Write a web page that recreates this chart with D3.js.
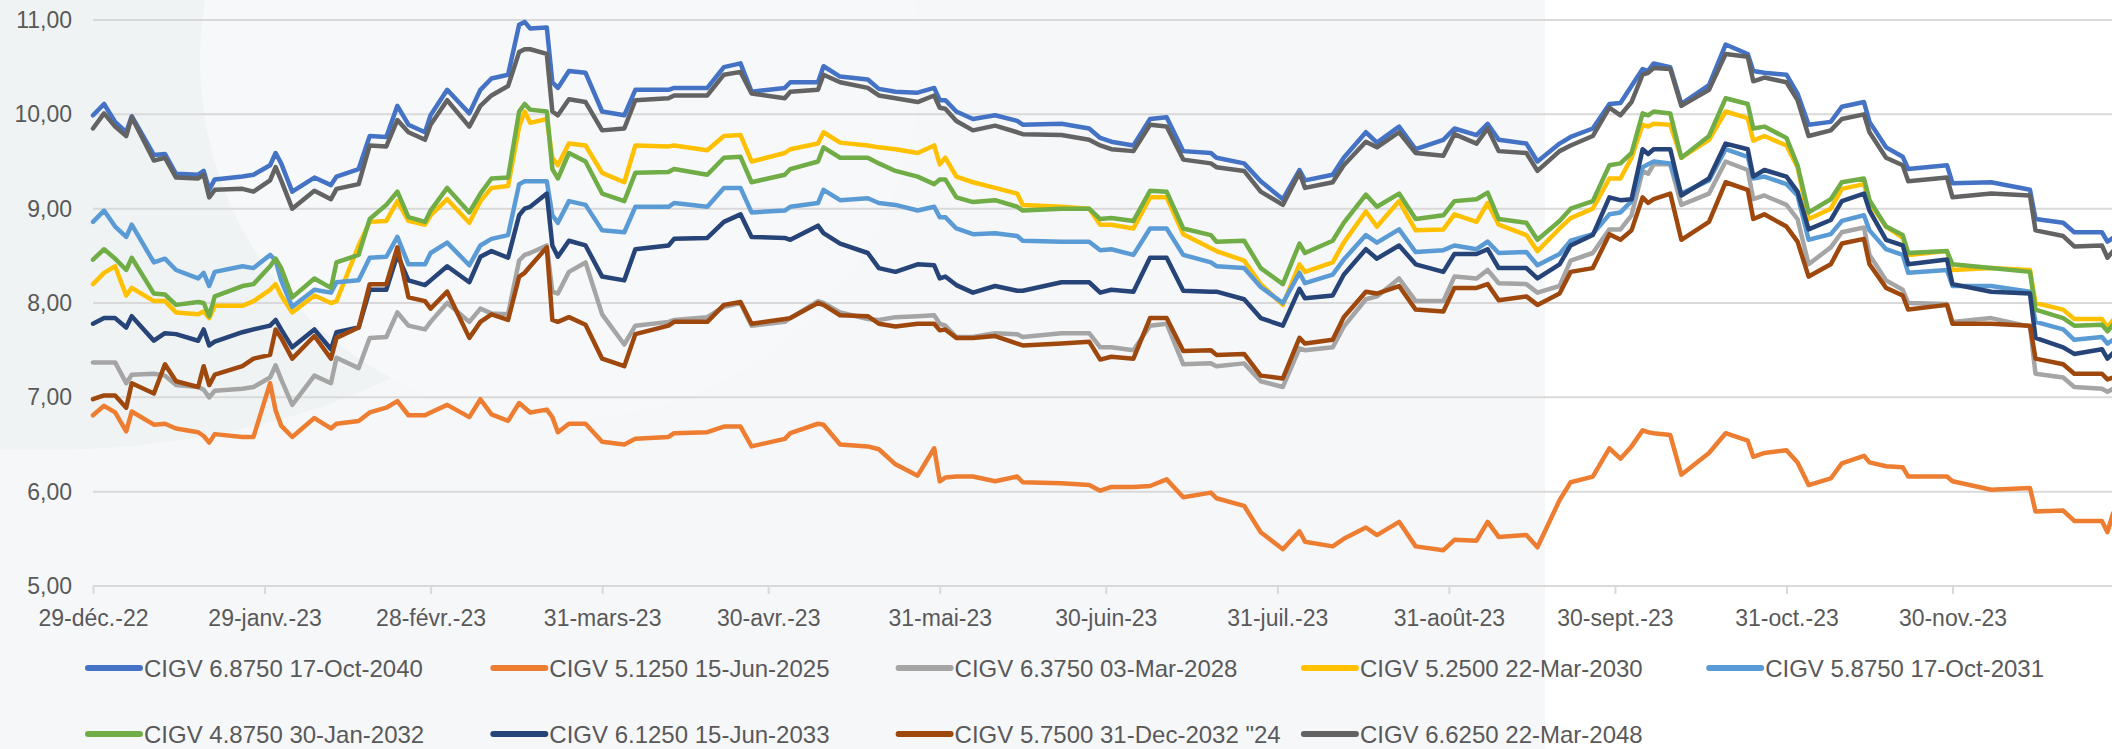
<!DOCTYPE html>
<html>
<head>
<meta charset="utf-8">
<script src="https://cdn.jsdelivr.net/npm/d3@7/dist/d3.min.js"></script>
<style>
body { margin: 0; background: #ffffff; }
text { font-family: "Liberation Sans", Arial, sans-serif; fill: #595959; }
</style>
</head>
<body>
<script>
var width = 2112;
var height = 749;

// dates of the sampled points
var dates = [
  "2022-12-29","2022-12-31","2023-01-02","2023-01-04","2023-01-05","2023-01-09","2023-01-11","2023-01-13","2023-01-17","2023-01-18",
  "2023-01-19","2023-01-20","2023-01-25","2023-01-27","2023-01-30","2023-01-31","2023-02-01","2023-02-03","2023-02-07","2023-02-10",
  "2023-02-11","2023-02-15","2023-02-17","2023-02-20","2023-02-22","2023-02-24","2023-02-27","2023-02-28","2023-03-03","2023-03-07",
  "2023-03-09","2023-03-11","2023-03-14","2023-03-16","2023-03-17","2023-03-18","2023-03-21","2023-03-22","2023-03-23","2023-03-25",
  "2023-03-28","2023-03-31",
  "2023-04-04","2023-04-06","2023-04-12","2023-04-13","2023-04-19","2023-04-22","2023-04-25","2023-04-27","2023-05-03","2023-05-04",
  "2023-05-09","2023-05-10","2023-05-13","2023-05-18","2023-05-20","2023-05-23","2023-05-27","2023-05-30","2023-05-31","2023-06-01",
  "2023-06-03","2023-06-06","2023-06-10","2023-06-14","2023-06-15","2023-06-22","2023-06-27","2023-06-29","2023-07-01",
  "2023-07-05","2023-07-08","2023-07-11","2023-07-14","2023-07-19","2023-07-20","2023-07-25","2023-07-28","2023-08-01","2023-08-04",
  "2023-08-05","2023-08-10","2023-08-12","2023-08-16","2023-08-18","2023-08-22","2023-08-25","2023-08-30","2023-09-01","2023-09-05",
  "2023-09-07","2023-09-09","2023-09-14","2023-09-16","2023-09-20","2023-09-22","2023-09-26","2023-09-29","2023-10-01",
  "2023-10-03","2023-10-05","2023-10-06","2023-10-07","2023-10-10","2023-10-12","2023-10-17","2023-10-20","2023-10-24","2023-10-25",
  "2023-10-27","2023-10-31","2023-11-02","2023-11-04","2023-11-08","2023-11-10","2023-11-14","2023-11-15","2023-11-18","2023-11-21",
  "2023-11-22","2023-11-29","2023-11-30","2023-12-07","2023-12-14","2023-12-15","2023-12-20","2023-12-22","2023-12-27","2023-12-28",
  "2023-12-29"
];

// yields per bond
var cigv2040 = [9.99,10.11,9.92,9.81,9.98,9.57,9.58,9.37,9.36,9.40,9.20,9.31,9.34,9.36,9.46,9.59,9.48,9.18,9.33,9.25,9.34,9.42,9.77,9.76,10.09,9.89,9.81,9.99,10.26,10.01,10.26,10.38,10.42,10.95,10.98,10.91,10.92,10.34,10.28,10.46,10.44,10.03,
  9.99,10.26,10.26,10.28,10.28,10.50,10.54,10.24,10.28,10.34,10.34,10.51,10.40,10.37,10.27,10.24,10.23,10.28,10.15,10.15,10.03,9.95,9.99,9.93,9.89,9.90,9.85,9.75,9.71,
  9.67,9.95,9.97,9.61,9.59,9.54,9.48,9.29,9.10,9.41,9.30,9.36,9.54,9.81,9.70,9.87,9.63,9.73,9.85,9.78,9.90,9.73,9.69,9.50,9.69,9.76,9.85,10.11,10.12,
  10.30,10.48,10.46,10.54,10.50,10.11,10.31,10.74,10.64,10.46,10.44,10.42,10.22,9.89,9.92,10.08,10.13,9.92,9.65,9.55,9.42,9.46,9.27,9.28,9.20,8.89,8.85,8.75,8.75,8.65,8.69];
var cigv2025 = [6.81,6.91,6.84,6.64,6.85,6.71,6.72,6.67,6.63,6.59,6.52,6.61,6.58,6.58,7.15,6.86,6.70,6.58,6.78,6.67,6.72,6.75,6.84,6.89,6.96,6.81,6.81,6.84,6.92,6.79,6.98,6.82,6.75,6.94,6.89,6.84,6.87,6.79,6.63,6.72,6.72,6.53,
  6.50,6.56,6.58,6.62,6.63,6.69,6.69,6.48,6.56,6.62,6.72,6.71,6.50,6.48,6.45,6.29,6.17,6.46,6.11,6.15,6.16,6.16,6.11,6.16,6.10,6.09,6.07,6.01,6.05,
  6.05,6.06,6.13,5.94,5.99,5.93,5.85,5.57,5.39,5.58,5.47,5.42,5.50,5.62,5.54,5.68,5.42,5.38,5.49,5.48,5.68,5.52,5.54,5.41,5.91,6.10,6.16,6.46,6.35,
  6.48,6.65,6.63,6.62,6.60,6.18,6.41,6.62,6.54,6.37,6.41,6.44,6.31,6.07,6.14,6.30,6.38,6.31,6.27,6.26,6.16,6.16,6.11,6.02,6.04,5.79,5.80,5.69,5.69,5.57,5.77];
var cigv2028 = [7.37,7.37,7.37,7.15,7.24,7.25,7.23,7.13,7.11,7.08,7.00,7.07,7.09,7.11,7.21,7.34,7.19,6.92,7.23,7.15,7.42,7.31,7.63,7.64,7.90,7.76,7.72,7.80,8.00,7.80,7.94,7.89,7.88,8.45,8.51,8.53,8.61,8.12,8.10,8.33,8.43,7.88,
  7.56,7.76,7.80,7.82,7.85,7.96,8.00,7.76,7.80,7.84,8.02,8.00,7.90,7.83,7.82,7.85,7.86,7.87,7.78,7.76,7.64,7.64,7.68,7.67,7.64,7.68,7.68,7.53,7.53,
  7.50,7.76,7.78,7.35,7.36,7.33,7.36,7.17,7.11,7.52,7.50,7.53,7.75,8.04,8.07,8.26,8.02,8.02,8.28,8.26,8.35,8.21,8.20,8.11,8.18,8.45,8.53,8.78,8.78,
  8.93,9.40,9.37,9.47,9.47,9.04,9.16,9.50,9.41,9.10,9.14,9.04,8.89,8.41,8.59,8.75,8.80,8.51,8.24,8.14,8.00,7.99,7.80,7.84,7.75,7.25,7.21,7.11,7.09,7.06,7.09];
var cigv2030 = [8.20,8.32,8.39,8.08,8.16,8.02,8.02,7.90,7.88,7.91,7.84,7.97,7.97,8.02,8.14,8.20,8.08,7.90,8.08,8.00,8.02,8.61,8.86,8.87,9.08,8.87,8.83,8.93,9.10,8.85,9.08,9.22,9.24,9.87,10.03,9.91,9.95,9.54,9.46,9.69,9.67,9.38,
  9.28,9.67,9.66,9.67,9.62,9.77,9.78,9.50,9.59,9.63,9.69,9.81,9.70,9.67,9.65,9.63,9.59,9.67,9.47,9.54,9.34,9.28,9.22,9.16,9.04,9.02,9.00,8.83,8.83,
  8.79,9.12,9.12,8.73,8.58,8.55,8.45,8.20,7.98,8.41,8.33,8.43,8.64,8.97,8.81,9.08,8.77,8.78,8.94,8.86,9.06,8.83,8.72,8.55,8.79,8.90,9.00,9.32,9.32,
  9.54,9.89,9.87,9.90,9.89,9.54,9.73,10.03,9.96,9.72,9.77,9.67,9.44,8.89,9.00,9.21,9.26,9.06,8.81,8.69,8.51,8.55,8.35,8.37,8.35,8.00,7.93,7.83,7.83,7.74,7.82];
var cigv2031 = [8.86,8.98,8.81,8.70,8.83,8.43,8.47,8.35,8.26,8.32,8.18,8.33,8.39,8.37,8.51,8.45,8.24,7.96,8.14,8.11,8.22,8.24,8.48,8.49,8.70,8.41,8.41,8.53,8.64,8.40,8.61,8.68,8.72,9.26,9.29,9.29,9.29,8.93,8.85,9.08,9.04,8.77,
  8.75,9.02,9.02,9.06,9.02,9.22,9.22,8.96,8.98,9.02,9.06,9.20,9.09,9.11,9.06,9.04,8.98,9.02,8.91,8.91,8.79,8.73,8.74,8.71,8.66,8.65,8.65,8.56,8.57,
  8.51,8.79,8.79,8.51,8.43,8.39,8.37,8.17,8.00,8.32,8.21,8.30,8.46,8.72,8.64,8.78,8.54,8.56,8.61,8.57,8.65,8.53,8.54,8.40,8.52,8.66,8.73,8.94,8.96,
  9.08,9.44,9.47,9.50,9.48,9.16,9.30,9.63,9.55,9.32,9.34,9.26,9.14,8.67,8.73,8.87,8.93,8.77,8.57,8.51,8.32,8.35,8.18,8.18,8.12,7.80,7.72,7.61,7.64,7.57,7.61];
var cigv2032 = [8.46,8.57,8.47,8.35,8.48,8.10,8.09,7.98,8.01,8.00,7.86,8.07,8.18,8.20,8.39,8.47,8.37,8.06,8.26,8.16,8.43,8.51,8.89,9.04,9.18,8.91,8.86,8.98,9.22,8.96,9.16,9.32,9.33,10.03,10.11,10.05,10.03,9.42,9.32,9.59,9.50,9.16,
  9.08,9.38,9.39,9.42,9.36,9.54,9.55,9.28,9.36,9.42,9.50,9.65,9.54,9.54,9.48,9.40,9.34,9.26,9.31,9.31,9.12,9.07,9.09,9.02,8.98,9.00,9.00,8.89,8.90,
  8.87,9.19,9.18,8.79,8.72,8.65,8.66,8.37,8.20,8.63,8.53,8.66,8.85,9.15,9.02,9.16,8.89,8.93,9.08,9.10,9.17,8.89,8.85,8.67,8.87,9.00,9.08,9.46,9.48,
  9.59,10.01,9.99,10.03,10.01,9.54,9.77,10.17,10.11,9.85,9.87,9.75,9.46,8.96,9.10,9.28,9.32,9.09,8.81,8.72,8.53,8.55,8.41,8.37,8.33,7.93,7.84,7.76,7.77,7.70,7.77];
var cigv2033 = [7.78,7.84,7.84,7.74,7.86,7.60,7.68,7.67,7.60,7.72,7.55,7.59,7.69,7.72,7.76,7.82,7.72,7.53,7.72,7.51,7.69,7.74,8.14,8.14,8.51,8.24,8.19,8.24,8.39,8.22,8.49,8.55,8.48,8.93,9.00,9.02,9.16,8.61,8.49,8.66,8.61,8.28,
  8.24,8.57,8.61,8.68,8.69,8.86,8.94,8.70,8.69,8.67,8.82,8.74,8.63,8.53,8.37,8.33,8.41,8.40,8.26,8.28,8.19,8.11,8.18,8.13,8.13,8.22,8.22,8.11,8.14,
  8.12,8.48,8.48,8.13,8.12,8.12,8.04,7.84,7.76,8.15,8.05,8.08,8.30,8.57,8.47,8.61,8.41,8.33,8.52,8.52,8.57,8.37,8.37,8.26,8.41,8.61,8.72,9.12,9.09,
  9.10,9.63,9.58,9.63,9.63,9.14,9.32,9.69,9.63,9.34,9.41,9.34,9.18,8.78,8.88,9.08,9.16,8.98,8.67,8.61,8.41,8.46,8.20,8.12,8.10,7.63,7.53,7.46,7.51,7.41,7.47];
var cigv2032b = [6.98,7.02,7.02,6.89,7.15,7.04,7.35,7.17,7.11,7.33,7.13,7.24,7.33,7.41,7.45,7.72,7.63,7.41,7.65,7.41,7.63,7.74,8.20,8.20,8.59,8.06,8.02,7.94,8.12,7.63,7.80,7.88,7.82,8.28,8.32,8.39,8.59,7.82,7.80,7.85,7.77,7.41,
  7.33,7.67,7.76,7.80,7.80,7.98,8.01,7.78,7.83,7.84,8.00,7.98,7.87,7.86,7.78,7.75,7.78,7.78,7.71,7.72,7.63,7.63,7.65,7.57,7.55,7.57,7.59,7.40,7.43,
  7.41,7.84,7.84,7.49,7.50,7.45,7.46,7.23,7.20,7.63,7.57,7.61,7.85,8.12,8.10,8.18,7.93,7.91,8.16,8.16,8.20,8.03,8.07,7.98,8.10,8.33,8.37,8.73,8.67,
  8.77,9.12,9.06,9.10,9.16,8.67,8.86,9.28,9.20,8.89,8.94,8.81,8.65,8.28,8.41,8.63,8.68,8.41,8.16,8.08,7.93,7.98,7.78,7.78,7.76,7.41,7.35,7.25,7.25,7.19,7.21];
var cigv2048 = [9.85,10.01,9.87,9.77,9.97,9.51,9.54,9.33,9.32,9.36,9.12,9.20,9.21,9.18,9.30,9.44,9.30,9.00,9.19,9.10,9.21,9.26,9.67,9.66,9.94,9.81,9.73,9.89,10.15,9.87,10.09,10.20,10.30,10.66,10.69,10.69,10.64,10.03,9.99,10.16,10.13,9.83,
  9.85,10.15,10.17,10.20,10.20,10.42,10.45,10.22,10.17,10.24,10.26,10.42,10.34,10.28,10.20,10.17,10.13,10.20,10.07,10.06,9.93,9.83,9.88,9.81,9.79,9.78,9.73,9.67,9.63,
  9.61,9.89,9.87,9.52,9.48,9.44,9.40,9.18,9.04,9.38,9.22,9.28,9.46,9.71,9.65,9.81,9.59,9.56,9.79,9.69,9.85,9.61,9.59,9.40,9.61,9.67,9.77,10.07,9.99,
  10.13,10.42,10.44,10.49,10.48,10.09,10.26,10.64,10.61,10.35,10.39,10.34,10.15,9.77,9.83,9.95,10.00,9.81,9.54,9.46,9.29,9.33,9.12,9.16,9.14,8.77,8.71,8.60,8.61,8.48,8.55];

var seriesNames = ["CIGV 6.8750 17-Oct-2040", "CIGV 5.1250 15-Jun-2025", "CIGV 6.3750 03-Mar-2028",
                   "CIGV 5.2500 22-Mar-2030", "CIGV 5.8750 17-Oct-2031", "CIGV 4.8750 30-Jan-2032",
                   "CIGV 6.1250 15-Jun-2033", "CIGV 5.7500 31-Dec-2032 \"24", "CIGV 6.6250 22-Mar-2048"];
var seriesValues = [cigv2040, cigv2025, cigv2028, cigv2030, cigv2031, cigv2032, cigv2033, cigv2032b, cigv2048];
var seriesColors = ["#4472c4", "#ed7d31", "#a5a5a5", "#ffc000", "#5b9bd5", "#70ad47", "#264478", "#9e480e", "#636363"];

// axis ticks
var tickDates = ["2022-12-29","2023-01-29","2023-02-28","2023-03-31","2023-04-30","2023-05-31",
                 "2023-06-30","2023-07-31","2023-08-31","2023-09-30","2023-10-31","2023-11-30"];
var tickLabels = ["29-déc.-22","29-janv.-23","28-févr.-23","31-mars-23","30-avr.-23","31-mai-23",
                  "30-juin-23","31-juil.-23","31-août-23","30-sept.-23","31-oct.-23","30-nov.-23"];
var yTicks = [5, 6, 7, 8, 9, 10, 11];

var parse = d3.timeParse("%Y-%m-%d");

var xScale = d3.scaleTime().domain([parse("2022-12-29"), parse("2023-12-29")]).range([93, 2113]);
var yScale = d3.scaleLinear().domain([5, 11]).range([586, 20]);

var svg = d3.select("body")
            .append("svg")
            .attr("width", width)
            .attr("height", height);

// faint background picture
svg.append("rect")
   .attr("x", 0).attr("y", 0)
   .attr("width", 1545).attr("height", height)
   .attr("fill", "#f6f7f9");
svg.append("ellipse")
   .attr("cx", 40).attr("cy", 200)
   .attr("rx", 500).attr("ry", 250)
   .attr("fill", "#e6eded")
   .attr("opacity", 0.45);
svg.append("circle")
   .attr("cx", 560).attr("cy", 60)
   .attr("r", 360)
   .attr("fill", "#f7f8f9");

// grid lines
svg.append("g")
   .selectAll("line")
   .data(yTicks)
   .enter()
   .append("line")
   .attr("x1", 93)
   .attr("x2", width)
   .attr("y1", function(d) {return yScale(d);})
   .attr("y2", function(d) {return yScale(d);})
   .attr("stroke", "#d9d9d9")
   .attr("stroke-width", 2);

// Y axis labels
svg.append("g")
   .selectAll("text")
   .data(yTicks)
   .enter()
   .append("text")
   .attr("x", 72)
   .attr("y", function(d) {return yScale(d) + 8;})
   .style("text-anchor", "end")
   .style("font-size", "23px")
   .text(function(d) {return d3.format(".2f")(d).replace(".", ",");});

// X axis
var xAxis = svg.append("g")
               .attr("transform", `translate(0, ${yScale(5)})`)
               .call(d3.axisBottom(xScale)
                       .tickValues(tickDates.map(parse))
                       .tickSize(8)
                       .tickFormat(function(d, i) {return tickLabels[i];}));
xAxis.select(".domain").remove();
xAxis.selectAll(".tick line").attr("stroke", "#d9d9d9").attr("stroke-width", 2);
xAxis.selectAll(".tick text")
     .attr("y", 24)
     .attr("dy", "0.71em")
     .style("font-size", "23px")
     .style("font-family", "Liberation Sans, Arial, sans-serif")
     .attr("fill", "#595959");

// line plotter
var line_plot = d3.line()
                  .x(function(d) {return xScale(d.date);})
                  .y(function(d) {return yScale(d.value);});

seriesValues.forEach(function(values, i) {
  var data = dates.map(function(d, j) {return {date: parse(d), value: values[j]};});
  svg.append("path")
     .attr("fill", "none")
     .attr("stroke", seriesColors[i])
     .attr("stroke-width", 4.5)
     .attr("stroke-linejoin", "round")
     .attr("stroke-linecap", "round")
     .attr("d", line_plot(data));
});

// legend
var legend = svg.append("g")
                .selectAll("g")
                .data(seriesNames)
                .enter()
                .append("g")
                .attr("transform", function(d, i) {
                  return `translate(${88 + (i % 5) * 405.3}, ${i < 5 ? 668 : 734})`;
                });
legend.append("line")
      .attr("x1", 0).attr("x2", 52)
      .attr("stroke", function(d, i) {return seriesColors[i];})
      .attr("stroke-width", 6)
      .attr("stroke-linecap", "round");
legend.append("text")
      .attr("x", 56)
      .attr("y", 8.5)
      .style("font-size", "24px")
      .text(function(d) {return d;});
</script>
</body>
</html>
